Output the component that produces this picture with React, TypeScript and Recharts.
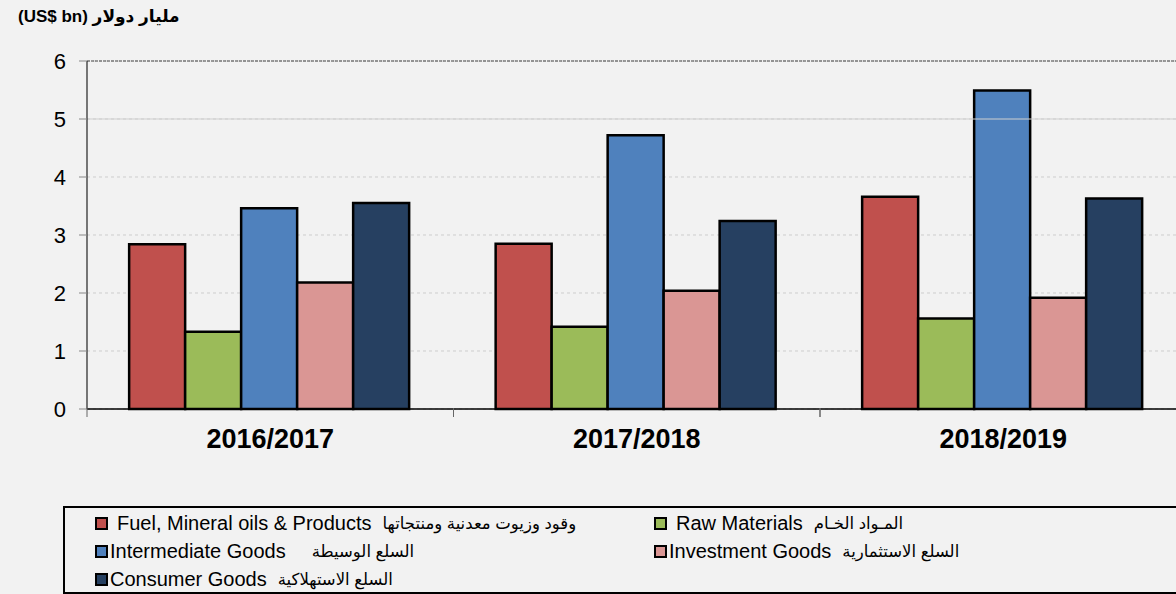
import React from 'react';
import { BarChart, Bar, XAxis, YAxis, CartesianGrid, ReferenceLine } from 'recharts';

const categories = ['2016/2017', '2017/2018', '2018/2019'];
const fuel = [2.84, 2.85, 3.66];
const raw = [1.33, 1.42, 1.56];
const intermediate = [3.46, 4.72, 5.49];
const investment = [2.18, 2.04, 1.92];
const consumer = [3.55, 3.24, 3.63];
const yTicks = [0, 1, 2, 3, 4, 5, 6];

const seriesKeys = ['fuel', 'raw', 'intermediate', 'investment', 'consumer'];
const seriesEn = ['Fuel, Mineral oils & Products', 'Raw Materials', 'Intermediate Goods', 'Investment Goods', 'Consumer Goods'];
const seriesAr = ['وقود وزيوت معدنية ومنتجاتها', 'المـواد الخـام', 'السلع الوسيطة', 'السلع الاستثمارية', 'السلع الاستهلاكية'];
const seriesColors = ['#c0504d', '#9bbb59', '#4f81bd', '#da9694', '#264061'];

const data = categories.map((c, i) => ({
  name: c,
  fuel: fuel[i],
  raw: raw[i],
  intermediate: intermediate[i],
  investment: investment[i],
  consumer: consumer[i],
}));

const FONT = '"Liberation Sans", Arial, "DejaVu Sans", sans-serif';
const BAND = 1099.5 / categories.length;

const CategoryTick = ({ x, y, payload }: any) => (
  <g>
    <line x1={x - BAND / 2} y1={y - 9} x2={x - BAND / 2} y2={y} stroke="#666" strokeWidth={1} />
    <line x1={x + BAND / 2} y1={y - 9} x2={x + BAND / 2} y2={y} stroke="#666" strokeWidth={1} />
    <text x={x} y={y + 31} textAnchor="middle" fontFamily={FONT} fontWeight="bold" fontSize={27} fill="#000">
      {payload.value}
    </text>
  </g>
);

export default function App() {
  return (
    <div style={{ position: 'fixed', left: 0, top: 0, width: 1176, height: 594, background: '#f2f2f2', overflow: 'hidden', fontFamily: FONT }}>
      <div style={{ position: 'absolute', left: 18, top: 6, fontSize: 17, fontWeight: 'bold', color: '#000', whiteSpace: 'nowrap' }}>
        (US$ bn) مليار دولار
      </div>
      <div style={{ position: 'absolute', left: 0, top: 0 }}>
        <BarChart
          width={1200}
          height={470}
          data={data}
          margin={{ top: 61, right: 13.5, left: 27, bottom: 11 }}
          barCategoryGap="11.5%"
          barGap={0}
        >
          <CartesianGrid horizontal vertical={false} stroke="#cdcdcd" strokeDasharray="3 3" />
          <ReferenceLine y={5} stroke="#cfcfcf" strokeWidth={1} />
          <ReferenceLine y={6} stroke="#444" strokeWidth={1} strokeDasharray="3 1" />
          <XAxis
            dataKey="name"
            height={50}
            axisLine={{ stroke: '#000', strokeWidth: 1.5 }}
            tickLine={false}
            tick={<CategoryTick />}
            interval={0}
          />
          <YAxis
            width={60}
            domain={[0, 6]}
            ticks={yTicks}
            interval={0}
            axisLine={{ stroke: '#222', strokeWidth: 1.2 }}
            tickLine={{ stroke: '#888' }}
            tickSize={8}
            tickMargin={13}
            tick={{ fontFamily: FONT, fontSize: 22, fill: '#000' }}
          />
          {seriesKeys.map((k, i) => (
            <Bar key={k} dataKey={k} name={seriesEn[i]} fill={seriesColors[i]} stroke="#000" strokeWidth={2.5} isAnimationActive={false} />
          ))}
        </BarChart>
      </div>
      <div
        style={{
          position: 'absolute',
          left: 63,
          top: 506,
          width: 1140,
          height: 88,
          border: '2px solid #000',
          boxSizing: 'border-box',
          display: 'grid',
          gridTemplateColumns: '559px 559px',
          gridAutoRows: '28px',
          paddingLeft: 30,
          paddingTop: 1,
          fontSize: 20,
          color: '#000',
        }}
      >
        {seriesKeys.map((k, i) => (
          <div key={k} style={{ display: 'flex', alignItems: 'center', whiteSpace: 'nowrap' }}>
            <span style={{ display: 'inline-block', width: 9, height: 9, background: seriesColors[i], border: '2px solid #000', marginRight: i === 0 || i === 1 ? 9 : 2 }} />
            <span>{seriesEn[i]}</span>
            <span style={{ marginLeft: i === 2 ? 26 : 11, fontSize: 16.5 }}>{seriesAr[i]}</span>
          </div>
        ))}
      </div>
    </div>
  );
}
